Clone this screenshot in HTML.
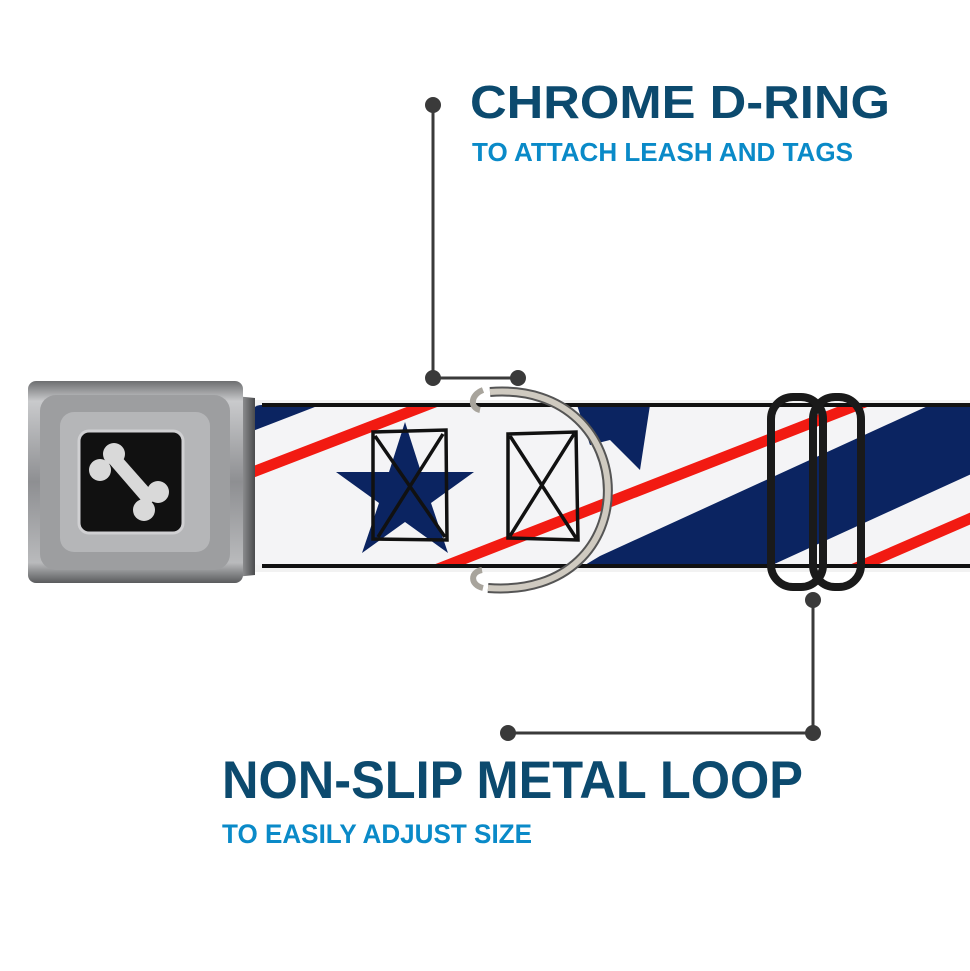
<!DOCTYPE html>
<html><head><meta charset="utf-8"><style>
html,body{margin:0;padding:0;background:#fff;}
svg{display:block;}
text{font-family:"Liberation Sans",sans-serif;font-weight:bold;}
</style></head><body>
<svg width="970" height="971" viewBox="0 0 970 971" xmlns="http://www.w3.org/2000/svg">
<defs>
<clipPath id="strap"><path d="M262 405 L970 405 L970 566 L262 566 Q250 566 250 550 L250 420 Q250 405 262 405Z"/></clipPath>
<linearGradient id="metal" x1="0" y1="0" x2="0" y2="1">
<stop offset="0" stop-color="#6d6e70"/><stop offset="0.1" stop-color="#c9cacc"/><stop offset="0.5" stop-color="#8e8f92"/><stop offset="0.9" stop-color="#b9babc"/><stop offset="1" stop-color="#5a5b5d"/></linearGradient>
<linearGradient id="metal2" x1="0" y1="0" x2="1" y2="0">
<stop offset="0" stop-color="#58595b"/><stop offset="0.5" stop-color="#9a9b9d"/><stop offset="1" stop-color="#4a4b4d"/></linearGradient>
</defs>
<!-- strap shadow -->
<rect x="240" y="400" width="730" height="172" fill="#f2f2f2"/>
<!-- strap -->
<g clip-path="url(#strap)">
<rect x="240" y="400" width="740" height="180" fill="#f4f4f6"/>
<polygon points="250,405 320,405 250,432" fill="#0b2461"/>
<polygon points="577,405 650,405 640,470 610,440 590,445" fill="#0b2461"/>
<polygon points="560,580 600,556 930,405 980,405 980,470 770,566 760,580" fill="#0b2461"/>
<line x1="240" y1="477" x2="440" y2="400" stroke="#f21a12" stroke-width="11"/>
<line x1="420" y1="576" x2="870" y2="400" stroke="#f21a12" stroke-width="11"/>
<line x1="840" y1="575" x2="990" y2="510" stroke="#f21a12" stroke-width="11"/>
<polygon points="405,422 421,472 474,472 431,503 448,553 405,522 362,553 379,503 336,472 389,472" fill="#0b2461"/>
<g fill="none" stroke="#111" stroke-width="3.5">
<path d="M373 432 L446 430 L447 540 L373 539Z M375 436 L445 537 M443 434 L378 537"/>
<path d="M508 434 L576 432 L578 540 L508 538Z M510 436 L576 538 M574 434 L510 536"/>
</g>
</g>
<path d="M262 405 L970 405" stroke="#111" stroke-width="4"/>
<path d="M262 566 L970 566" stroke="#111" stroke-width="4"/>
<!-- buckle -->
<path d="M225 395 L255 398 L255 575 L225 578Z" fill="url(#metal2)"/>
<rect x="28" y="381" width="215" height="202" rx="8" fill="url(#metal)"/>
<rect x="40" y="395" width="190" height="175" rx="16" fill="#9d9ea0"/>
<rect x="60" y="412" width="150" height="140" rx="14" fill="#b5b6b8"/>
<rect x="79" y="431" width="104" height="102" rx="10" fill="#111" stroke="#d0d0d2" stroke-width="3"/>
<g fill="#d9d9d9">
<circle cx="114" cy="454" r="11"/><circle cx="100" cy="470" r="11"/>
<circle cx="158" cy="492" r="11"/><circle cx="144" cy="510" r="11"/>
<polygon points="108,462 120,455 158,498 146,506"/>
</g>
<!-- D ring -->
<path d="M490 392 C 645 380, 650 600, 488 588" fill="none" stroke="#555" stroke-width="10"/>
<path d="M490 392 C 645 380, 650 600, 488 588" fill="none" stroke="#cfcac0" stroke-width="6"/>
<path d="M483 390 C 470 395, 470 408, 480 410" fill="none" stroke="#a8a49c" stroke-width="6"/>
<path d="M483 588 C 470 585, 470 572, 482 570" fill="none" stroke="#a8a49c" stroke-width="6"/>
<!-- metal loop -->
<rect x="771" y="397" width="52" height="190" rx="22" fill="none" stroke="#1a1a1a" stroke-width="8"/>
<rect x="813" y="397" width="48" height="190" rx="22" fill="none" stroke="#1a1a1a" stroke-width="8"/>
<!-- connectors -->
<g stroke="#3a3a3a" stroke-width="3" fill="none">
<path d="M433 105 L433 378 L518 378"/>
<path d="M813 600 L813 733 L508 733"/>
</g>
<g fill="#3a3a3a">
<circle cx="433" cy="105" r="8"/><circle cx="433" cy="378" r="8"/><circle cx="518" cy="378" r="8"/>
<circle cx="813" cy="600" r="8"/><circle cx="813" cy="733" r="8"/><circle cx="508" cy="733" r="8"/>
</g>
<!-- text -->
<text x="470" y="118" font-size="46" fill="#0c4a6e" textLength="420" lengthAdjust="spacingAndGlyphs">CHROME D-RING</text>
<text x="472" y="161" font-size="26" fill="#0a8ac8" textLength="381" lengthAdjust="spacingAndGlyphs">TO ATTACH LEASH AND TAGS</text>
<text x="222" y="798" font-size="53" fill="#0c4a6e" textLength="581" lengthAdjust="spacingAndGlyphs">NON-SLIP METAL LOOP</text>
<text x="222" y="843" font-size="27" fill="#0a8ac8" textLength="310" lengthAdjust="spacingAndGlyphs">TO EASILY ADJUST SIZE</text>
</svg>
</body></html>
